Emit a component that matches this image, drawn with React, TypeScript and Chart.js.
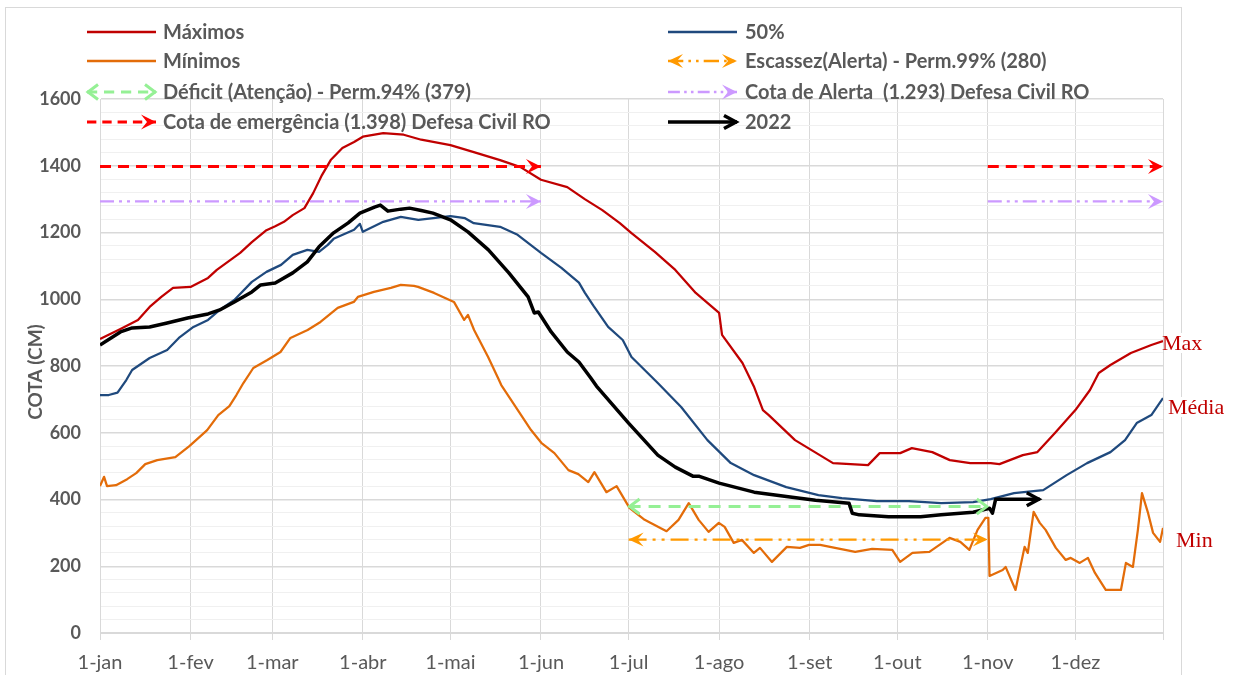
import React, { useEffect, useRef } from 'react';
import { Chart, registerables } from 'chart.js';

Chart.register(...registerables);

// ---------- axis / tick data ----------
const MONTH_TICKS = [0, 31, 59, 90, 120, 151, 181, 212, 243, 273, 304, 334, 364];
const MONTH_LABELS = ['1-jan', '1-fev', '1-mar', '1-abr', '1-mai', '1-jun', '1-jul', '1-ago', '1-set', '1-out', '1-nov', '1-dez', ''];
const Y_MIN = 0;
const Y_MAX = 1600;
const Y_MINOR_STEP = 40;
const Y_MAJOR_STEP = 200;

// ---------- series data (day of year, cota cm) ----------
const maxDays = [0, 7, 13, 17, 21, 25, 31, 37, 40, 48, 52, 57, 60, 63, 66, 70, 73, 76, 79, 83, 87, 90, 97, 104, 110, 120, 128, 137, 144, 151, 160, 166, 172, 178, 182, 190, 197, 204, 212, 213, 220, 224, 227, 229, 238, 251, 263, 267, 274, 278, 285, 291, 298, 305, 308, 316, 321, 327, 334, 339, 342, 346, 353, 360, 364];
const maxVals = [881, 911, 938, 977, 1007, 1034, 1037, 1064, 1088, 1139, 1171, 1207, 1219, 1232, 1252, 1273, 1318, 1372, 1417, 1453, 1471, 1487, 1498, 1493, 1478, 1462, 1441, 1417, 1396, 1358, 1336, 1300, 1267, 1228, 1198, 1142, 1088, 1019, 959, 893, 809, 737, 668, 653, 578, 509, 503, 539, 539, 554, 542, 518, 509, 509, 506, 533, 542, 599, 668, 728, 779, 803, 839, 863, 875];

const medDays = [0, 3, 6, 9, 11, 17, 23, 27, 32, 37, 41, 46, 52, 57, 62, 66, 71, 75, 78, 80, 87, 89, 90, 97, 103, 109, 120, 125, 128, 137, 143, 151, 158, 164, 166, 169, 174, 179, 182, 191, 199, 208, 216, 224, 235, 246, 254, 266, 277, 288, 299, 305, 313, 323, 331, 338, 346, 351, 355, 360, 364];
const medVals = [713, 713, 720, 758, 788, 824, 848, 884, 917, 938, 968, 998, 1052, 1082, 1103, 1133, 1148, 1142, 1163, 1181, 1208, 1226, 1202, 1232, 1247, 1238, 1249, 1243, 1228, 1217, 1193, 1139, 1094, 1050, 1020, 980, 917, 878, 827, 749, 677, 578, 509, 473, 437, 413, 404, 395, 395, 389, 392, 401, 419, 428, 473, 509, 542, 578, 629, 653, 704];

const minDays = [0, 1.4, 2.4, 5.5, 9.3, 12.4, 15.5, 19.6, 25.8, 30.6, 36.7, 40.5, 44.3, 46.7, 49.1, 52.5, 57.3, 61.8, 65.2, 71.1, 75.5, 81.4, 86.9, 88.3, 93.8, 99.6, 103, 107.5, 108.9, 114.4, 121.2, 124.7, 126, 128.1, 132.9, 136.3, 137.4, 140.8, 144.2, 147.6, 151.1, 155.6, 160.4, 163.8, 167.2, 169.3, 173.4, 176.9, 181.3, 186.5, 194, 198.1, 201.6, 205, 208.4, 211.9, 213.9, 217, 219.8, 223.9, 226, 230.1, 235.2, 239.7, 242.8, 246.6, 251.7, 258.6, 264.4, 271.3, 274, 278.2, 284, 290.9, 294.6, 297.7, 300.5, 303.2, 304.2, 304.6, 309.1, 310.1, 313.5, 316.6, 317.7, 319.7, 321.8, 323.8, 327.3, 330.7, 332.4, 335.5, 338.3, 340.7, 344.4, 349.6, 351.3, 353.7, 355.4, 356.8, 358.9, 360.6, 363, 364, 364.6];
const minVals = [440, 468, 440, 443, 461, 479, 506, 518, 527, 560, 608, 653, 680, 713, 749, 794, 818, 842, 884, 908, 932, 974, 992, 1007, 1022, 1034, 1043, 1040, 1037, 1019, 992, 938, 953, 908, 827, 764, 743, 698, 653, 608, 570, 539, 488, 476, 452, 482, 422, 440, 375, 339, 305, 339, 389, 339, 303, 330, 318, 270, 279, 240, 255, 213, 258, 255, 264, 264, 255, 243, 252, 249, 213, 240, 243, 285, 273, 249, 309, 345, 345, 171, 189, 198, 129, 258, 240, 363, 330, 309, 255, 219, 225, 210, 225, 180, 129, 129, 210, 198, 309, 419, 359, 300, 273, 315, 285];

const y2022Days = [0, 7, 11, 17, 23, 30, 37, 41, 46, 52, 55, 60, 66, 71, 75, 80, 85, 89, 94, 96, 98.6, 103, 106, 110, 114, 120, 126, 133, 140, 146.6, 148.7, 150.1, 154.5, 160, 164, 168, 170, 181, 191, 197, 203, 205, 212, 224, 237, 245, 256.5, 257.6, 260, 270, 281, 288, 299, 304.6, 305.6, 306.7, 316, 321.8];
const y2022Vals = [863, 902, 914, 917, 929, 944, 956, 968, 992, 1022, 1043, 1049, 1079, 1112, 1157, 1199, 1229, 1258, 1276, 1282, 1264, 1270, 1273, 1266, 1258, 1238, 1202, 1148, 1079, 1007, 959, 962, 902, 842, 812, 765, 740, 629, 533, 497, 470, 470, 449, 422, 407, 398, 389, 359, 354, 348, 348, 354, 362, 374, 359, 401, 401, 401];

// reference levels
const DEFICIT_LEVEL = 379;
const DEFICIT_DAYS = [181, 304];
const ESCASSEZ_LEVEL = 280;
const ESCASSEZ_DAYS = [181, 304];
const EMERG_LEVEL = 1398;
const ALERTA_LEVEL = 1293;
const DEFESA_SEG1 = [0, 151];
const DEFESA_SEG2 = [304, 364];

// ---------- text ----------
const LEGEND_LABELS = [
  'Máximos', '50%',
  'Mínimos', 'Escassez(Alerta) - Perm.99% (280)',
  'Déficit (Atenção) - Perm.94% (379)', 'Cota de Alerta  (1.293) Defesa Civil RO',
  'Cota de emergência (1.398) Defesa Civil RO', '2022',
];
const Y_TITLE = 'COTA (CM)';
const SIDE_LABELS = ['Max', 'Média', 'Min'];

// ---------- styles ----------
const C_MAX = '#c00000';
const C_MED = '#1f497d';
const C_MIN = '#e36c09';
const C_2022 = '#000000';
const C_DEF = '#95f095';
const C_ESC = '#ff9900';
const C_EMERG = '#ff0000';
const C_ALERTA = '#cc99ff';
const GRAY_TEXT = '#595959';
const FONT = 'Lato, "Open Sans", sans-serif';

type ArrowKind = 'open' | 'stealth';
interface Sty {
  color: string; width: number; dash: number[];
  start?: ArrowKind; end?: ArrowKind; aLen?: number; aWid?: number;
}

const S_MAX: Sty = { color: C_MAX, width: 2.25, dash: [] };
const S_MED: Sty = { color: C_MED, width: 2.25, dash: [] };
const S_MIN: Sty = { color: C_MIN, width: 2.25, dash: [] };
const S_2022: Sty = { color: C_2022, width: 3.5, dash: [], end: 'open', aLen: 13, aWid: 13 };
const S_DEF: Sty = { color: C_DEF, width: 3, dash: [12, 8], start: 'open', end: 'open', aLen: 11, aWid: 15 };
const S_ESC: Sty = { color: C_ESC, width: 2.25, dash: [18, 6, 3, 6, 3, 6], start: 'stealth', end: 'stealth', aLen: 15, aWid: 14 };
const S_EMERG: Sty = { color: C_EMERG, width: 3, dash: [11, 7], end: 'stealth', aLen: 15, aWid: 15 };
const S_ALERTA: Sty = { color: C_ALERTA, width: 2.25, dash: [14, 5, 3, 5, 3, 5], end: 'stealth', aLen: 15, aWid: 15 };

const LEGEND_STYLES: Sty[] = [S_MAX, S_MED, S_MIN, S_ESC, S_DEF, S_ALERTA, S_EMERG, S_2022];

function pts(days: number[], vals: number[]) {
  return days.map((d, i) => ({ x: d, y: vals[i] }));
}
function level(days: number[], v: number) {
  return days.map((d) => ({ x: d, y: v }));
}

function drawArrow(ctx: CanvasRenderingContext2D, x: number, y: number, ang: number, kind: ArrowKind, s: Sty) {
  const len = s.aLen || 12;
  const wid = s.aWid || 12;
  ctx.save();
  ctx.translate(x, y);
  ctx.rotate(ang);
  ctx.setLineDash([]);
  if (kind === 'stealth') {
    ctx.beginPath();
    ctx.moveTo(0, 0);
    ctx.lineTo(-len, -wid / 2);
    ctx.lineTo(-len * 0.6, 0);
    ctx.lineTo(-len, wid / 2);
    ctx.closePath();
    ctx.fillStyle = s.color;
    ctx.fill();
  } else {
    ctx.beginPath();
    ctx.moveTo(-len, -wid / 2);
    ctx.lineTo(-1, 0);
    ctx.lineTo(-len, wid / 2);
    ctx.strokeStyle = s.color;
    ctx.lineWidth = s.width;
    ctx.lineJoin = 'miter';
    ctx.lineCap = 'butt';
    ctx.stroke();
  }
  ctx.restore();
}

function dataset(label: string, data: { x: number; y: number }[], s: Sty, order: number) {
  return {
    label,
    data,
    borderColor: s.color,
    backgroundColor: s.color,
    borderWidth: s.width,
    borderDash: s.dash,
    pointRadius: 0,
    pointHoverRadius: 0,
    fill: false,
    tension: 0,
    borderJoinStyle: 'round' as const,
    order,
    sty: s,
  };
}

const arrowPlugin = {
  id: 'arrowHeads',
  afterDatasetsDraw(chart: any) {
    const ctx = chart.ctx as CanvasRenderingContext2D;
    chart.data.datasets.forEach((ds: any, i: number) => {
      const s: Sty = ds.sty;
      if (!s || (!s.start && !s.end)) return;
      const els = chart.getDatasetMeta(i).data;
      if (els.length < 2) return;
      if (s.end) {
        const a = els[els.length - 2];
        const b = els[els.length - 1];
        drawArrow(ctx, b.x, b.y, Math.atan2(b.y - a.y, b.x - a.x), s.end, s);
      }
      if (s.start) {
        const a = els[1];
        const b = els[0];
        drawArrow(ctx, b.x, b.y, Math.atan2(b.y - a.y, b.x - a.x), s.start, s);
      }
    });
  },
};

const decorPlugin = {
  id: 'decor',
  beforeDraw(chart: any) {
    const ctx = chart.ctx as CanvasRenderingContext2D;
    ctx.save();
    ctx.fillStyle = '#ffffff';
    ctx.fillRect(0, 0, chart.width, chart.height);
    ctx.strokeStyle = '#d9d9d9';
    ctx.lineWidth = 1;
    ctx.strokeRect(5.5, 7.5, 1176, 700);
    ctx.restore();
  },
  afterDraw(chart: any) {
    const ctx = chart.ctx as CanvasRenderingContext2D;
    ctx.save();
    // legend
    const cols = [{ x0: 87, x1: 156, tx: 163 }, { x0: 668, x1: 737, tx: 745 }];
    const rows = [32, 61, 92, 122];
    LEGEND_LABELS.forEach((lab, i) => {
      const c = cols[i % 2];
      const y = rows[Math.floor(i / 2)];
      const s = LEGEND_STYLES[i];
      ctx.save();
      ctx.strokeStyle = s.color;
      ctx.lineWidth = Math.max(2.5, s.width);
      ctx.setLineDash(s.dash.length ? s.dash.map((d) => d * 0.85) : []);
      ctx.lineCap = 'butt';
      ctx.beginPath();
      ctx.moveTo(c.x0, y);
      ctx.lineTo(c.x1, y);
      ctx.stroke();
      ctx.restore();
      if (s.end) drawArrow(ctx, c.x1, y, 0, s.end, s);
      if (s.start) drawArrow(ctx, c.x0, y, Math.PI, s.start, s);
      ctx.fillStyle = GRAY_TEXT;
      ctx.font = `bold 20px ${FONT}`;
      ctx.textAlign = 'left';
      ctx.textBaseline = 'middle';
      ctx.fillText(lab, c.tx, y + 1);
    });
    // y title
    ctx.save();
    ctx.translate(36, 372);
    ctx.rotate(-Math.PI / 2);
    ctx.fillStyle = GRAY_TEXT;
    ctx.font = `bold 19px ${FONT}`;
    ctx.textAlign = 'center';
    ctx.textBaseline = 'middle';
    ctx.fillText(Y_TITLE, 0, 0);
    ctx.restore();
    // side labels
    const side = [{ x: 1162, y: 343 }, { x: 1168, y: 407 }, { x: 1176, y: 540 }];
    ctx.font = '22px "Liberation Serif", "Times New Roman", serif';
    ctx.textAlign = 'left';
    ctx.textBaseline = 'middle';
    SIDE_LABELS.forEach((t, i) => {
      const w = ctx.measureText(t).width;
      ctx.fillStyle = '#ffffff';
      ctx.fillRect(side[i].x + 10, side[i].y - 10, Math.max(0, w - 10), 20);
      ctx.fillStyle = C_MAX;
      ctx.fillText(t, side[i].x, side[i].y + 1);
    });
    ctx.restore();
  },
};

export default function App() {
  const ref = useRef<HTMLCanvasElement | null>(null);
  useEffect(() => {
    if (!ref.current) return;
    const datasets = [
      dataset('Máximos', pts(maxDays, maxVals), S_MAX, 8),
      dataset('50%', pts(medDays, medVals), S_MED, 7),
      dataset('Mínimos', pts(minDays, minVals), S_MIN, 6),
      dataset('Escassez', level(ESCASSEZ_DAYS, ESCASSEZ_LEVEL), S_ESC, 5),
      dataset('Déficit', level(DEFICIT_DAYS, DEFICIT_LEVEL), S_DEF, 4),
      dataset('Alerta1', level(DEFESA_SEG1, ALERTA_LEVEL), S_ALERTA, 3),
      dataset('Alerta2', level(DEFESA_SEG2, ALERTA_LEVEL), S_ALERTA, 3),
      dataset('Emerg1', level(DEFESA_SEG1, EMERG_LEVEL), S_EMERG, 2),
      dataset('Emerg2', level(DEFESA_SEG2, EMERG_LEVEL), S_EMERG, 2),
      dataset('2022', pts(y2022Days, y2022Vals), S_2022, 1),
    ];
    const chart = new Chart(ref.current, {
      type: 'line',
      data: { datasets: datasets as any },
      plugins: [decorPlugin, arrowPlugin],
      options: {
        animation: false,
        responsive: false,
        maintainAspectRatio: false,
        devicePixelRatio: 1,
        layout: { padding: { left: 0, top: 99, right: 72, bottom: 0 } },
        plugins: { legend: { display: false }, tooltip: { enabled: false }, title: { display: false } },
        scales: {
          x: {
            type: 'linear',
            min: MONTH_TICKS[0],
            max: MONTH_TICKS[MONTH_TICKS.length - 1],
            afterBuildTicks: (s: any) => { s.ticks = MONTH_TICKS.map((v) => ({ value: v })); },
            afterFit: (s: any) => { s.height = 42; },
            ticks: {
              autoSkip: false,
              maxRotation: 0,
              padding: 11,
              color: GRAY_TEXT,
              font: { family: FONT, size: 20 },
              callback: (_v: any, i: number) => MONTH_LABELS[i],
            },
            grid: { color: '#d9d9d9', lineWidth: 1, drawTicks: true, tickLength: 7, tickColor: '#d9d9d9' },
            border: { color: '#d9d9d9' },
          },
          y: {
            type: 'linear',
            min: Y_MIN,
            max: Y_MAX,
            afterBuildTicks: (s: any) => {
              const t = [];
              for (let v = Y_MIN; v <= Y_MAX; v += Y_MINOR_STEP) t.push({ value: v });
              s.ticks = t;
            },
            afterFit: (s: any) => { s.width = 100; },
            ticks: {
              autoSkip: false,
              padding: 19,
              color: GRAY_TEXT,
              font: { family: FONT, size: 18, weight: 'bold' },
              callback: (v: any) => (Number(v) % Y_MAJOR_STEP === 0 ? String(v) : ''),
            },
            grid: {
              drawTicks: false,
              color: (c: any) => (c.tick && c.tick.value % Y_MAJOR_STEP === 0 ? '#d9d9d9' : '#f0f0f0'),
              lineWidth: (c: any) => (c.tick && c.tick.value % Y_MAJOR_STEP === 0 ? 1.5 : 1),
            },
            border: { color: '#d9d9d9' },
          },
        },
      } as any,
    });
    return () => chart.destroy();
  }, []);
  return (
    <div style={{ position: 'fixed', left: 0, top: 0, width: 1235, height: 675, background: '#fff' }}>
      <canvas ref={ref} width={1235} height={675} style={{ display: 'block', width: 1235, height: 675 }} />
    </div>
  );
}
